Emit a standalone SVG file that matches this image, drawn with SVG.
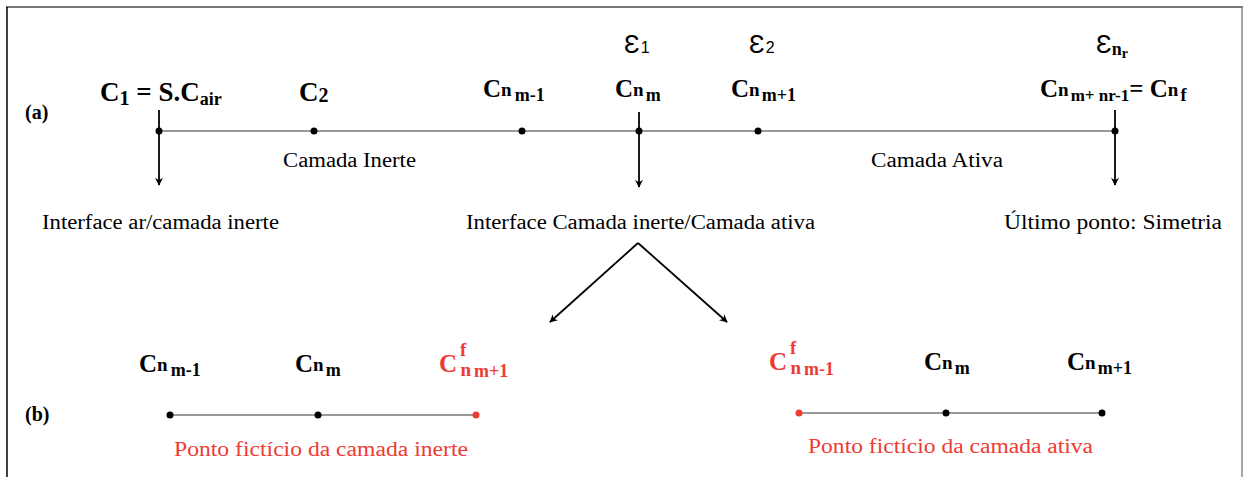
<svg xmlns="http://www.w3.org/2000/svg" width="1244" height="477" viewBox="0 0 1244 477">
<style>
.lb{font-family:"Liberation Serif",serif;font-weight:bold;fill:#000}
.ep{font-family:"Liberation Sans","DejaVu Sans",sans-serif;fill:#000}
.tx{font-family:"Liberation Serif",serif;font-size:20px;fill:#000}
.red{fill:#ee3b33}
.ln{stroke:#333;stroke-width:1.2;fill:none}
.ar{stroke:#000;stroke-width:1.8;fill:none;marker-end:url(#ah)}
.dot{fill:#000}
.rdot{fill:#ee3b33}
</style>
<defs>
<marker id="ah" viewBox="0 0 10 10" refX="9" refY="5" markerWidth="8" markerHeight="8" markerUnits="userSpaceOnUse" orient="auto">
<path d="M0,0 L10,5 L0,10 L3,5 z" fill="#000"/>
</marker>
</defs>
<rect width="1244" height="477" fill="#fff"/>
<g id="frame">
<line x1="6" y1="7" x2="1243" y2="7" stroke="#777" stroke-width="2"/>
<line x1="7" y1="7" x2="7" y2="477" stroke="#000" stroke-width="1.5"/>
<line x1="1242" y1="7" x2="1242" y2="477" stroke="#888" stroke-width="1.5"/>
</g>
<g id="connectors">
<line class="ln" x1="159" y1="131" x2="1115" y2="131"/>
<line class="ar" x1="159" y1="110" x2="159" y2="185"/>
<line class="ar" x1="639" y1="112" x2="639" y2="187"/>
<line class="ar" x1="1115" y1="110" x2="1115" y2="185"/>
<line class="ar" x1="638" y1="243" x2="550" y2="322"/>
<line class="ar" x1="638" y1="243" x2="727" y2="322"/>
<line class="ln" x1="170" y1="415" x2="476" y2="415"/>
<line class="ln" x1="799" y1="413" x2="1102" y2="413"/>
</g>
<g id="labels-a">
<text class="lb" x="25" y="119" font-size="20">(a)</text>
<text class="lb" x="25" y="421" font-size="20">(b)</text>
</g>
<g id="node-c1">
<circle class="dot" cx="159" cy="131" r="3.5"/>
<text class="lb" x="100" y="101" font-size="27">C<tspan font-size="20" dx="0" dy="4">1</tspan><tspan dy="-4"> = S.C</tspan><tspan font-size="18" dy="4">air</tspan></text>
<text class="tx" x="42" y="229" textLength="237" lengthAdjust="spacingAndGlyphs">Interface ar/camada inerte</text>
</g>
<g id="node-c2">
<circle class="dot" cx="314" cy="131" r="3.5"/>
<text class="lb" x="299" y="101" font-size="27">C<tspan font-size="20" dy="1">2</tspan></text>
<text class="tx" x="283" y="167" textLength="133" lengthAdjust="spacingAndGlyphs">Camada Inerte</text>
</g>
<g id="node-cnm-1">
<circle class="dot" cx="522" cy="131" r="3.5"/>
<text class="lb" x="483" y="97" font-size="25">C<tspan font-size="19" dy="-1">n</tspan><tspan font-size="18" dx="3" dy="5">m-1</tspan></text>
</g>
<g id="node-cnm">
<circle class="dot" cx="639" cy="131" r="3.5"/>
<text class="ep" x="624" y="53" font-size="26">Ɛ<tspan font-size="16" dx="1">1</tspan></text>
<text class="lb" x="615" y="97" font-size="25">C<tspan font-size="19" dy="-1">n</tspan><tspan font-size="18" dx="2" dy="5">m</tspan></text>
<text class="tx" x="466" y="229" textLength="349" lengthAdjust="spacingAndGlyphs">Interface Camada inerte/Camada ativa</text>
</g>
<g id="node-cnm+1">
<circle class="dot" cx="758" cy="131" r="3.5"/>
<text class="ep" x="749" y="53" font-size="26">Ɛ<tspan font-size="16" dx="1">2</tspan></text>
<text class="lb" x="731" y="97" font-size="25">C<tspan font-size="19" dy="-1">n</tspan><tspan font-size="18" dx="2" dy="5">m+1</tspan></text>
<text class="tx" x="871" y="167" textLength="132" lengthAdjust="spacingAndGlyphs">Camada Ativa</text>
</g>
<g id="node-cnf">
<circle class="dot" cx="1115" cy="131" r="3.5"/>
<text class="ep" x="1096" y="53" font-size="26">Ɛ<tspan class="lb" font-size="18" dy="2">n</tspan><tspan class="lb" font-size="14" dy="3">r</tspan></text>
<text class="lb" x="1040" y="97" font-size="25">C<tspan font-size="19" dy="-1">n</tspan><tspan font-size="17" dx="2" dy="5">m+ nr-1</tspan><tspan dy="-4">= C</tspan><tspan font-size="19" dy="-1">n</tspan><tspan font-size="18" dx="2" dy="5">f</tspan></text>
<text class="tx" x="1004" y="229" textLength="218" lengthAdjust="spacingAndGlyphs">Último ponto: Simetria</text>
</g>
<g id="group-b-inerte">
<circle class="dot" cx="170" cy="415" r="3.5"/>
<circle class="dot" cx="318" cy="415" r="3.5"/>
<circle class="rdot" cx="476" cy="415" r="3.5"/>
<text class="lb" x="139" y="372" font-size="25">C<tspan font-size="19" dy="-1">n</tspan><tspan font-size="18" dx="3" dy="5">m-1</tspan></text>
<text class="lb" x="295" y="372" font-size="25">C<tspan font-size="19" dy="-1">n</tspan><tspan font-size="18" dx="2" dy="5">m</tspan></text>
<text class="lb red" x="439" y="372" font-size="25">C<tspan font-size="19" dx="3" dy="-16">f</tspan><tspan font-size="19" dx="-6" dy="20">n</tspan><tspan font-size="18" dx="3" dy="1">m+1</tspan></text>
<text class="tx red" x="174" y="456" textLength="294" lengthAdjust="spacingAndGlyphs">Ponto fictício da camada inerte</text>
</g>
<g id="group-b-ativa">
<circle class="rdot" cx="799" cy="413" r="3.5"/>
<circle class="dot" cx="946" cy="413" r="3.5"/>
<circle class="dot" cx="1102" cy="413" r="3.5"/>
<text class="lb red" x="769" y="370" font-size="25">C<tspan font-size="19" dx="3" dy="-16">f</tspan><tspan font-size="19" dx="-6" dy="20">n</tspan><tspan font-size="18" dx="3" dy="1">m-1</tspan></text>
<text class="lb" x="924" y="370" font-size="25">C<tspan font-size="19" dy="-1">n</tspan><tspan font-size="18" dx="2" dy="5">m</tspan></text>
<text class="lb" x="1067" y="370" font-size="25">C<tspan font-size="19" dy="-1">n</tspan><tspan font-size="18" dx="2" dy="5">m+1</tspan></text>
<text class="tx red" x="808" y="453" textLength="285" lengthAdjust="spacingAndGlyphs">Ponto fictício da camada ativa</text>
</g>
</svg>
